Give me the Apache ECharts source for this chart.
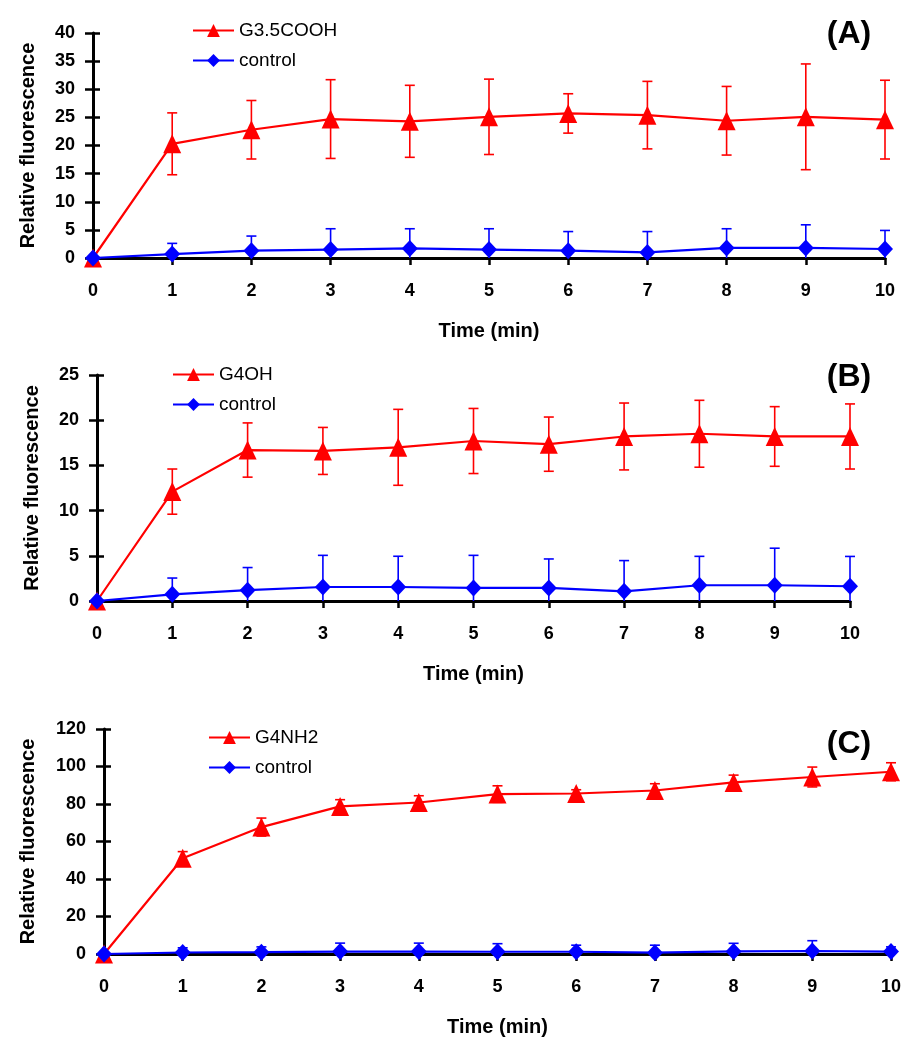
<!DOCTYPE html>
<html><head><meta charset="utf-8">
<script src="https://cdn.jsdelivr.net/npm/echarts@6/dist/echarts.min.js"></script>
<style>html,body{margin:0;padding:0;background:#fff}#c{width:921px;height:1050px}</style>
</head><body><div id="c"></div>
<script>
// ---- data ----
const times = [0, 1, 2, 3, 4, 5, 6, 7, 8, 9, 10];
const panelLabels = ['(A)', '(B)', '(C)'];
const seriesNames = ['G3.5COOH', 'G4OH', 'G4NH2'];
const controlName = 'control';

const aG35COOH    = [0, 20.3, 22.8, 24.7, 24.3, 25.1, 25.7, 25.4, 24.4, 25.1, 24.6];
const aG35COOHErr = [0, 5.5, 5.2, 7.0, 6.4, 6.7, 3.5, 6.0, 6.1, 9.4, 7.0];
const aControl    = [0, 0.7, 1.3, 1.5, 1.7, 1.5, 1.3, 1.0, 1.8, 1.8, 1.6];
const aControlErr = [0, 1.9, 2.6, 3.7, 3.5, 3.7, 3.4, 3.7, 3.4, 4.1, 3.3];

const bG4OH       = [0, 12.1, 16.7, 16.6, 17.0, 17.7, 17.35, 18.2, 18.5, 18.2, 18.2];
const bG4OHErr    = [0, 2.5, 3.0, 2.6, 4.2, 3.6, 3.0, 3.7, 3.7, 3.3, 3.6];
const bControl    = [0, 0.74, 1.2, 1.55, 1.55, 1.45, 1.45, 1.07, 1.74, 1.74, 1.63];
const bControlErr = [0, 1.8, 2.5, 3.5, 3.4, 3.6, 3.2, 3.4, 3.2, 4.1, 3.3];

const cG4NH2      = [0, 51.1, 67.7, 78.7, 80.8, 85.3, 85.6, 87.2, 91.5, 94.4, 97.2];
const cG4NH2Err   = [0, 3.5, 4.8, 3.6, 3.6, 4.4, 2.0, 3.6, 3.9, 5.3, 4.8];
const cControl    = [0, 0.8, 1.0, 1.3, 1.3, 1.2, 1.2, 0.7, 1.4, 1.6, 1.3];
const cControlErr = [0, 2.5, 2.8, 4.5, 4.5, 4.3, 3.5, 4.0, 4.3, 5.5, 2.5];

const yMax = [40, 25, 120];
const yInterval = [5, 5, 20];

// ---- layout / style ----
const FONT = '"Liberation Sans", Arial, sans-serif';
const RED = '#ff0000', BLUE = '#0000ff';
const grids = [
  {left: 93, top: 33, width: 792, height: 225},
  {left: 97, top: 375, width: 753, height: 226},
  {left: 104, top: 729, width: 787, height: 225}
];
const yNameGap = [55, 55, 66];
const legendPos = [{left: 192, top: 21}, {left: 172, top: 365}, {left: 208, top: 728}];
const labelCenters = [[849, 34], [849, 377], [849, 744]];

const panels = [
  {red: aG35COOH, redErr: aG35COOHErr, ctrl: aControl, ctrlErr: aControlErr},
  {red: bG4OH, redErr: bG4OHErr, ctrl: bControl, ctrlErr: bControlErr},
  {red: cG4NH2, redErr: cG4NH2Err, ctrl: cControl, ctrlErr: cControlErr}
];

function errRenderer(color) {
  return function (params, api) {
    const x = api.value(0), y = api.value(1), e = api.value(2);
    if (!e) return null;
    const top = api.coord([x, y + e]);
    const lowVal = y - e;
    const bot = api.coord([x, Math.max(lowVal, 0)]);
    const hw = 5;
    const style = {stroke: color, lineWidth: 1.6, fill: null};
    const children = [
      {type: 'line', shape: {x1: top[0], y1: top[1], x2: bot[0], y2: bot[1]}, style: style},
      {type: 'line', shape: {x1: top[0] - hw, y1: top[1], x2: top[0] + hw, y2: top[1]}, style: style}
    ];
    if (lowVal >= 0) {
      children.push({type: 'line', shape: {x1: bot[0] - hw, y1: bot[1], x2: bot[0] + hw, y2: bot[1]}, style: style});
    }
    return {type: 'group', children: children};
  };
}

const option = {
  animation: false,
  backgroundColor: '#fff',
  textStyle: {fontFamily: FONT},
  grid: [], xAxis: [], yAxis: [], series: [], legend: [], graphic: []
};

panels.forEach(function (p, i) {
  const g = grids[i];
  option.grid.push(Object.assign({containLabel: false}, g));
  option.grid.push(Object.assign({containLabel: false}, g)); // overlay for inner ticks
  const gi = i * 2, go = i * 2 + 1;
  option.xAxis.push({
    gridIndex: gi, type: 'value', min: 0, max: 10, interval: 1,
    name: 'Time (min)', nameLocation: 'middle', nameGap: 63,
    nameTextStyle: {fontSize: 20, fontWeight: 'bold', color: '#000', fontFamily: FONT},
    axisLine: {show: true, onZero: false, lineStyle: {color: '#000', width: 3}},
    axisTick: {show: true, length: 7, lineStyle: {color: '#000', width: 2.5}},
    axisLabel: {fontSize: 18, fontWeight: 'bold', color: '#000', margin: 24, fontFamily: FONT},
    splitLine: {show: false}
  });
  option.xAxis.push({
    gridIndex: go, type: 'value', min: 0, max: 10, interval: 1, show: false
  });
  option.yAxis.push({
    gridIndex: gi, type: 'value', min: 0, max: yMax[i], interval: yInterval[i],
    name: 'Relative fluorescence', nameLocation: 'middle', nameGap: yNameGap[i], nameRotate: 90,
    nameTextStyle: {fontSize: 20, fontWeight: 'bold', color: '#000', fontFamily: FONT},
    axisLine: {show: true, onZero: false, lineStyle: {color: '#000', width: 3}},
    axisTick: {show: true, length: 8, lineStyle: {color: '#000', width: 2.5}},
    axisLabel: {fontSize: 18, fontWeight: 'bold', color: '#000', margin: 18, fontFamily: FONT},
    splitLine: {show: false}
  });
  option.yAxis.push({
    gridIndex: go, type: 'value', min: 0, max: yMax[i], interval: yInterval[i],
    axisLine: {show: false},
    axisTick: {show: true, inside: true, length: 7, lineStyle: {color: '#000', width: 2.5}},
    axisLabel: {show: false},
    splitLine: {show: false}
  });

  const redData = times.map(function (t, k) { return [t, p.red[k]]; });
  const ctrlData = times.map(function (t, k) { return [t, p.ctrl[k]]; });
  const redErrData = times.map(function (t, k) { return [t, p.red[k], p.redErr[k]]; });
  const ctrlErrData = times.map(function (t, k) { return [t, p.ctrl[k], p.ctrlErr[k]]; });

  option.series.push({
    type: 'custom', name: 'err-red-' + i, xAxisIndex: gi, yAxisIndex: gi, clip: false,
    renderItem: errRenderer(RED), data: redErrData, encode: {x: 0, y: 1}, z: 2, silent: true
  });
  option.series.push({
    type: 'line', name: seriesNames[i], xAxisIndex: gi, yAxisIndex: gi, data: redData,
    symbol: 'triangle', symbolSize: [18, 19], showSymbol: true, clip: false,
    lineStyle: {color: RED, width: 2.2}, itemStyle: {color: RED}, z: 3,
    emphasis: {disabled: true}
  });
  option.series.push({
    type: 'custom', name: 'err-blue-' + i, xAxisIndex: gi, yAxisIndex: gi, clip: false,
    renderItem: errRenderer(BLUE), data: ctrlErrData, encode: {x: 0, y: 1}, z: 4, silent: true
  });
  option.series.push({
    type: 'line', name: controlName, xAxisIndex: gi, yAxisIndex: gi, data: ctrlData,
    symbol: 'diamond', symbolSize: [16, 17], showSymbol: true, clip: false,
    lineStyle: {color: BLUE, width: 2.2}, itemStyle: {color: BLUE}, z: 5,
    emphasis: {disabled: true}
  });

  option.legend.push({
    left: legendPos[i].left, top: legendPos[i].top, orient: 'vertical', padding: 0,
    itemWidth: 41, itemHeight: 16, itemGap: 11,
    data: [seriesNames[i], controlName],
    textStyle: {fontSize: 19, color: '#000', fontFamily: FONT},
    selectedMode: false
  });

  option.graphic.push({
    type: 'text', x: labelCenters[i][0], y: labelCenters[i][1],
    style: {text: panelLabels[i], font: 'bold 32px ' + FONT, fill: '#000',
            textAlign: 'center', textVerticalAlign: 'middle'}
  });
});

const chart = echarts.init(document.getElementById('c'), null, {renderer: 'canvas'});
chart.setOption(option);
</script>
</body></html>
